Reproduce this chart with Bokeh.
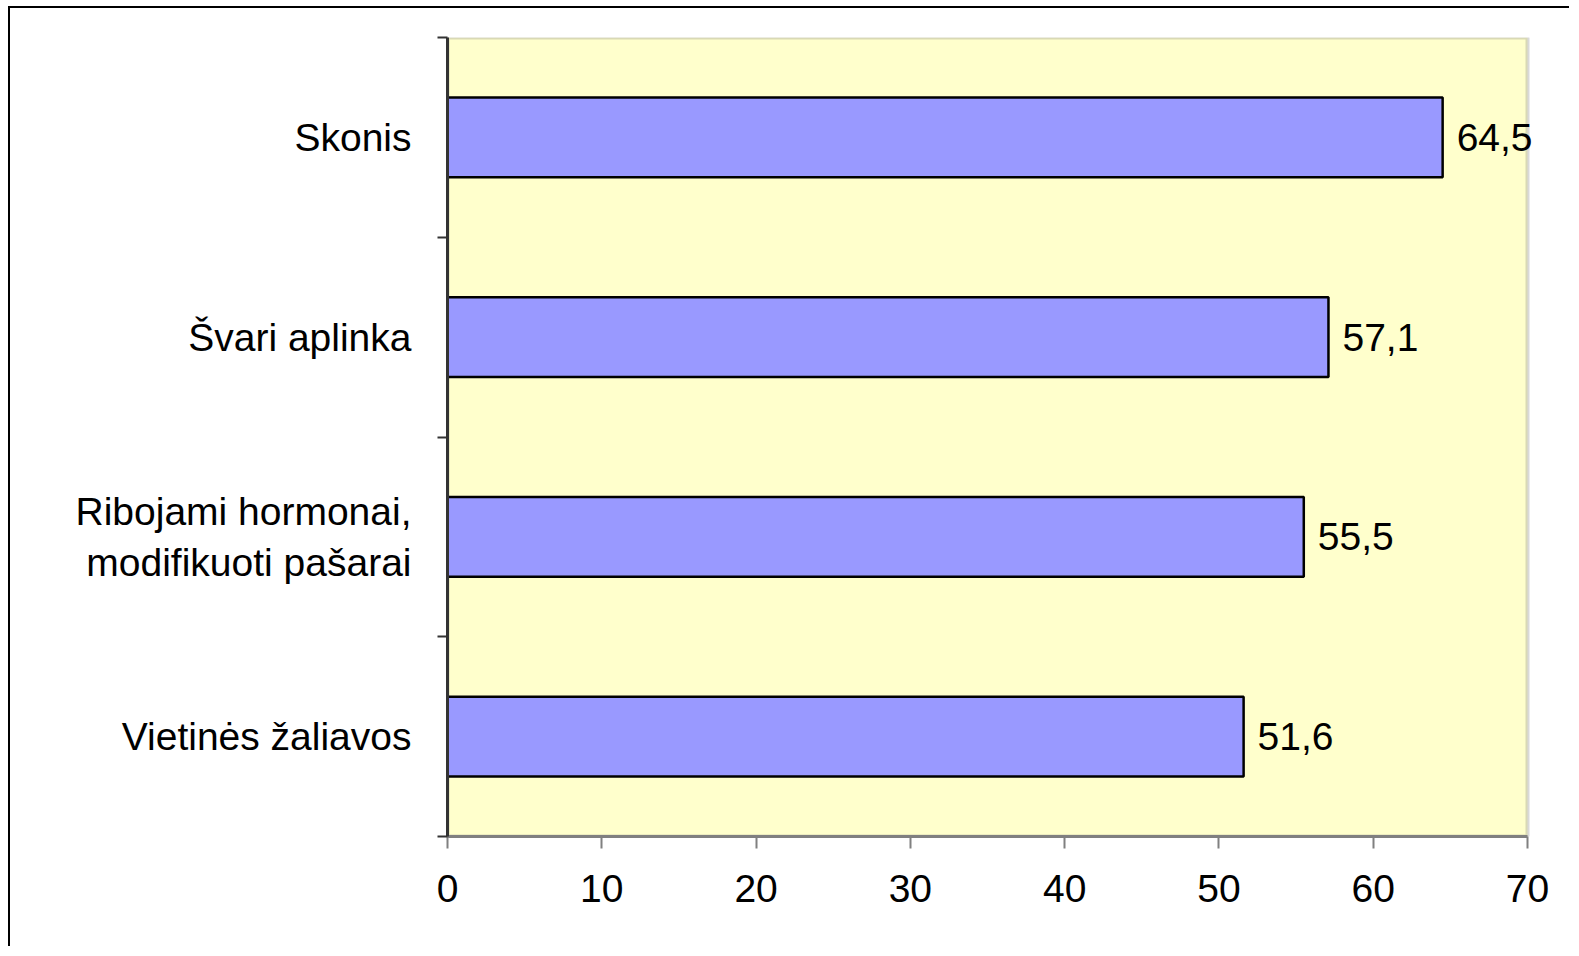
from bokeh.plotting import figure
from bokeh.models import Range1d, FixedTicker, ColumnDataSource, Label, BoxAnnotation
from bokeh.embed import file_html
from bokeh.resources import INLINE

categories = ["Vietinės žaliavos", "Ribojami hormonai,\nmodifikuoti pašarai", "Švari aplinka", "Skonis"]
values = [51.6, 55.5, 57.1, 64.5]
x_ticks = [0, 10, 20, 30, 40, 50, 60, 70]

FONT = "Liberation Sans"
FS = "39px"

positions = [i + 0.5 for i in range(len(categories))]
labels = [f"{v:.1f}".replace(".", ",") for v in values]
x_max = x_ticks[-1]
x_view = x_max * 1098 / 1080  # extra room right of the plot area for the value labels

src = ColumnDataSource(dict(y=positions, v=values, lab=labels))

p = figure(width=1561, height=940, output_backend="svg", toolbar_location=None,
           x_range=Range1d(0, x_view), y_range=Range1d(0, len(categories)),
           min_border_left=437, min_border_right=26, min_border_top=29, min_border_bottom=112,
           background_fill_color="white", border_fill_color="white",
           styles={"border-top": "2px solid black", "border-left": "2px solid black",
                   "margin-left": "8px", "margin-top": "6px"})
p.outline_line_color = None

p.add_layout(BoxAnnotation(left=0, right=x_max, bottom=0, top=len(categories),
                           fill_color="#FFFFCC", fill_alpha=1.0,
                           line_color="#808080", line_width=4, level="underlay"))

p.hbar(y="y", right="v", left=0, height=0.4, source=src,
       fill_color="#9999FF", line_color="black", line_width=2.5)

for yv, v, lab in zip(positions, values, labels):
    p.add_layout(Label(x=v, y=yv, text=lab, x_offset=14, level="overlay",
                       text_align="left", text_baseline="middle",
                       text_font=FONT, text_font_size=FS, text_color="black"))

p.xgrid.visible = False
p.ygrid.visible = False

xa = p.xaxis[0]
xa.ticker = FixedTicker(ticks=x_ticks)
xa.bounds = (0, x_max)
xa.axis_line_color = "#808080"
xa.axis_line_width = 3
xa.major_tick_line_color = "#808080"
xa.major_tick_line_width = 2
xa.major_tick_out = 12
xa.major_tick_in = 0
xa.minor_tick_line_color = None
xa.major_label_text_font = FONT
xa.major_label_text_font_size = FS
xa.major_label_text_color = "black"
xa.major_label_standoff = 26

ya = p.yaxis[0]
ya.ticker = FixedTicker(ticks=positions, minor_ticks=list(range(len(categories) + 1)))
ya.major_label_overrides = {pos: c for pos, c in zip(positions, categories)}
ya.axis_line_color = "#333333"
ya.axis_line_width = 3
ya.major_tick_line_color = None
ya.minor_tick_line_color = "#333333"
ya.minor_tick_line_width = 2
ya.minor_tick_out = 10
ya.minor_tick_in = 0
ya.major_label_text_font = FONT
ya.major_label_text_font_size = FS
ya.major_label_text_color = "black"
ya.major_label_standoff = 26

open("out.html", "w").write(file_html(p, INLINE))
